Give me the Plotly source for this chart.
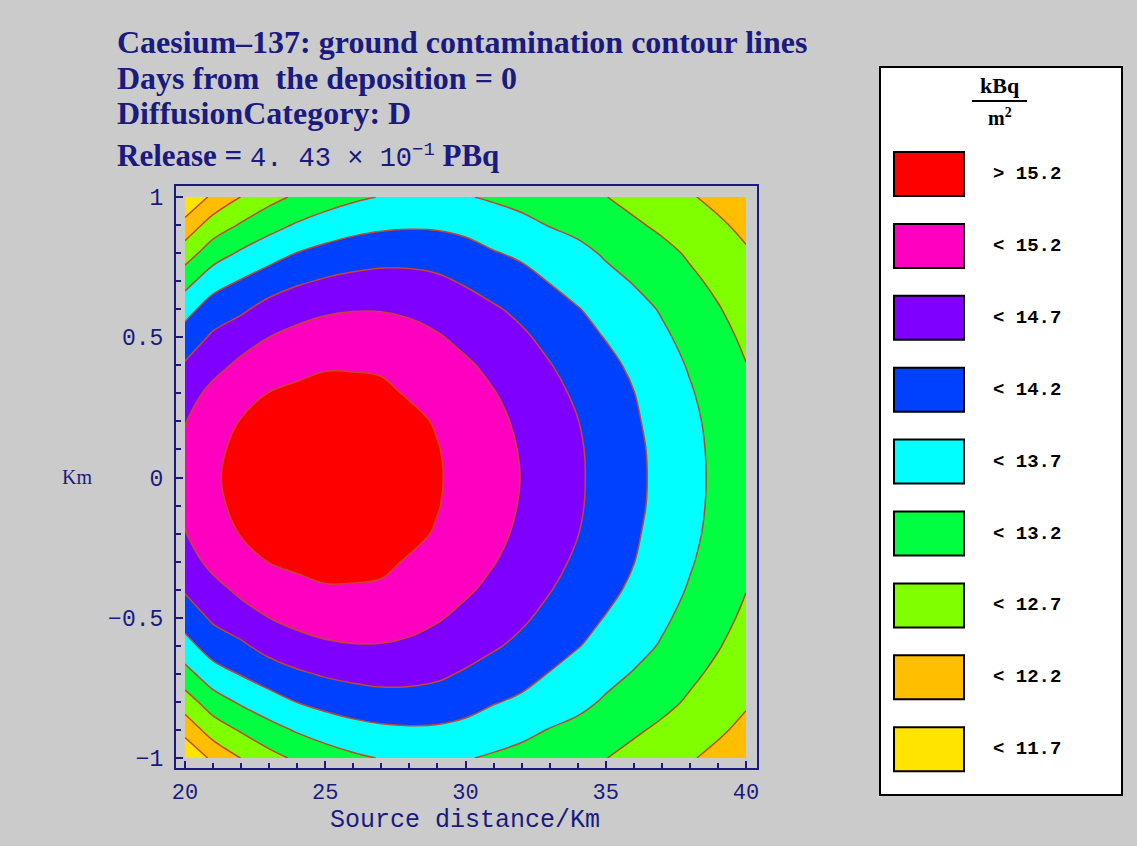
import plotly.graph_objects as go

# ---------------- data ----------------
x_km = [20, 21, 22, 23, 24, 25, 26, 27, 28, 29, 30, 31, 32, 33, 34, 35, 36, 37, 38, 39, 40]
y_km = [-1.0, -0.9, -0.8, -0.7, -0.6, -0.5, -0.4, -0.3, -0.2, -0.1, 0.0,
        0.1, 0.2, 0.3, 0.4, 0.5, 0.6, 0.7, 0.8, 0.9, 1.0]

# estimated contamination level (legend units) along rows of constant |y| (km)
row_y00 = [14.82, 15.15, 15.32, 15.45, 15.53, 15.57, 15.55, 15.50, 15.39, 15.24, 15.05,
           14.88, 14.69, 14.47, 14.26, 14.04, 13.81, 13.58, 13.34, 13.10, 12.85]
row_y01 = [14.78, 15.12, 15.29, 15.42, 15.50, 15.54, 15.53, 15.48, 15.37, 15.22, 15.03,
           14.86, 14.67, 14.46, 14.25, 14.03, 13.80, 13.57, 13.33, 13.09, 12.84]
row_y02 = [14.68, 15.02, 15.22, 15.33, 15.42, 15.47, 15.45, 15.41, 15.31, 15.16, 14.98,
           14.81, 14.62, 14.41, 14.21, 13.99, 13.76, 13.53, 13.30, 13.06, 12.81]
row_y03 = [14.50, 14.83, 15.04, 15.21, 15.28, 15.34, 15.33, 15.29, 15.16, 15.06, 14.89,
           14.72, 14.54, 14.33, 14.13, 13.92, 13.71, 13.47, 13.24, 13.01, 12.77]
row_y04 = [14.25, 14.55, 14.80, 14.98, 15.09, 15.16, 15.16, 15.14, 15.05, 14.93, 14.76,
           14.60, 14.43, 14.22, 14.03, 13.83, 13.61, 13.39, 13.16, 12.94, 12.71]
row_y05 = [13.91, 14.28, 14.50, 14.70, 14.83, 14.90, 14.92, 14.91, 14.85, 14.74, 14.59,
           14.44, 14.27, 14.08, 13.88, 13.68, 13.49, 13.28, 13.06, 12.84, 12.62]
row_y06 = [13.53, 13.93, 14.12, 14.38, 14.54, 14.64, 14.68, 14.68, 14.63, 14.53, 14.40,
           14.25, 14.10, 13.92, 13.72, 13.56, 13.36, 13.16, 12.94, 12.73, 12.51]
row_y07 = [13.02, 13.50, 13.73, 13.95, 14.13, 14.25, 14.32, 14.36, 14.34, 14.28, 14.15,
           14.01, 13.86, 13.68, 13.53, 13.35, 13.17, 12.99, 12.79, 12.60, 12.39]
row_y08 = [12.46, 12.97, 13.27, 13.50, 13.71, 13.85, 13.96, 14.02, 14.03, 13.99, 13.89,
           13.73, 13.62, 13.48, 13.34, 13.14, 13.00, 12.83, 12.64, 12.45, 12.25]
row_y09 = [11.87, 12.43, 12.75, 13.03, 13.25, 13.41, 13.53, 13.61, 13.64, 13.63, 13.56,
           13.44, 13.33, 13.18, 13.06, 12.93, 12.77, 12.61, 12.44, 12.27, 12.09]
row_y10 = [11.24, 11.81, 12.21, 12.54, 12.78, 12.98, 13.12, 13.22, 13.27, 13.27, 13.23,
           13.14, 13.04, 12.93, 12.82, 12.71, 12.55, 12.40, 12.24, 12.08, 11.91]

upper_rows = [row_y00, row_y01, row_y02, row_y03, row_y04, row_y05,
              row_y06, row_y07, row_y08, row_y09, row_y10]
z_grid = list(reversed(upper_rows[1:])) + upper_rows   # field is symmetric about y = 0

level_start = 11.7
level_end = 15.2
level_step = 0.5

# band colours from lowest band (< 11.7) to highest (> 15.2)
band_colors = ["#FFE400", "#FFBF00", "#80FF00", "#00FF40", "#00FFFF",
               "#0040FF", "#8000FF", "#FF00C0", "#FF0000"]
# legend rows, top to bottom
legend_labels = ["> 15.2", "< 15.2", "< 14.7", "< 14.2", "< 13.7",
                 "< 13.2", "< 12.7", "< 12.2", "< 11.7"]

title_lines = ["Caesium\u2013137: ground contamination contour lines",
               "Days from  the deposition = 0",
               "DiffusionCategory: D"]

# ---------------- layout helpers ----------------
W, H = 1137, 846
L, R, T, B = 176, 380, 186, 78
PW, PH = W - L - R, H - T - B


def fx(px):
    return (px - L) / PW


def fy(py):
    return (H - B - py) / PH


NAVY = "#1a1a80"
GRAY = "#cbcbcb"

n = len(band_colors)
colorscale = [[i / (n - 1), c] for i, c in enumerate(band_colors)]

fig = go.Figure()
fig.add_trace(go.Contour(
    x=x_km, y=y_km, z=z_grid,
    contours=dict(start=level_start, end=level_end, size=level_step, coloring="fill"),
    colorscale=colorscale,
    showscale=False,
    line=dict(color="#c8442a", width=1.5, smoothing=1.0),
    hoverinfo="skip",
))

tick_font = dict(family="Liberation Mono", size=22, color=NAVY)

fig.update_xaxes(
    range=[20 - 9 / 28.05, 40 + 11 / 28.05],
    tickmode="linear", tick0=20, dtick=5,
    ticks="inside", ticklen=7, tickwidth=1.5, tickcolor=NAVY,
    minor=dict(dtick=1, tick0=20, ticks="inside", ticklen=5, tickwidth=1.5, tickcolor=NAVY),
    showline=True, linecolor=NAVY, linewidth=2.2, mirror=True,
    showgrid=False, zeroline=False,
    tickfont=tick_font, ticklabelstandoff=2,
)
fig.update_yaxes(
    range=[-1 - 10 / 280.5, 1 + 11 / 280.5],
    tickmode="linear", tick0=0, dtick=0.5,
    ticks="inside", ticklen=7, tickwidth=1.5, tickcolor=NAVY,
    minor=dict(dtick=0.1, tick0=0, ticks="inside", ticklen=5, tickwidth=1.5, tickcolor=NAVY),
    showline=True, linecolor=NAVY, linewidth=2.2, mirror=True,
    showgrid=False, zeroline=False,
    tickfont=dict(family="Liberation Mono", size=23, color=NAVY), ticklabelstandoff=6,
)

annotations = []
title_y = [42, 78, 113]
for txt, yy in zip(title_lines, title_y):
    annotations.append(dict(
        text=txt, x=fx(115), y=fy(yy), xref="paper", yref="paper",
        xanchor="left", yanchor="middle", showarrow=False,
        font=dict(family="Liberation Serif", size=32, color=NAVY, weight="bold"),
    ))
annotations.append(dict(
    text="Release = <span style='font-family:Liberation Mono;font-weight:normal;font-size:27px'>4. 43 \u00d7 10"
         "<sup>\u22121</sup></span> PBq",
    x=fx(115), y=fy(156), xref="paper", yref="paper",
    xanchor="left", yanchor="middle", showarrow=False,
    font=dict(family="Liberation Serif", size=31, color=NAVY, weight="bold"),
))
annotations.append(dict(
    text="Km", x=fx(77), y=fy(477), xref="paper", yref="paper",
    xanchor="center", yanchor="middle", showarrow=False,
    font=dict(family="Liberation Serif", size=20, color=NAVY),
))
# x-axis title
annotations.append(dict(
    text="Source distance/Km", x=fx(465), y=fy(820), xref="paper", yref="paper",
    xanchor="center", yanchor="middle", showarrow=False,
    font=dict(family="Liberation Mono", size=25, color=NAVY),
))

shapes = []
# legend box
shapes.append(dict(type="rect", xref="paper", yref="paper",
                   x0=fx(880), x1=fx(1122), y0=fy(795), y1=fy(67),
                   fillcolor="white", line=dict(color="black", width=2), layer="above"))
# unit header kBq / m^2
annotations.append(dict(text="<b>kBq</b>", x=fx(1000), y=fy(86), xref="paper", yref="paper",
                        xanchor="center", yanchor="middle", showarrow=False,
                        font=dict(family="Liberation Serif", size=22, color="black")))
shapes.append(dict(type="line", xref="paper", yref="paper",
                   x0=fx(972), x1=fx(1027), y0=fy(101), y1=fy(101),
                   line=dict(color="black", width=2), layer="above"))
annotations.append(dict(text="<b>m<sup>2</sup></b>", x=fx(1000), y=fy(117), xref="paper", yref="paper",
                        xanchor="center", yanchor="middle", showarrow=False,
                        font=dict(family="Liberation Serif", size=20, color="black")))

row0, row_gap = 174, 71.9
for i, lab in enumerate(legend_labels):
    cy = row0 + i * row_gap
    color = band_colors[n - 1 - i]
    shapes.append(dict(type="rect", xref="paper", yref="paper",
                       x0=fx(894), x1=fx(964), y0=fy(cy + 22), y1=fy(cy - 22),
                       fillcolor=color, line=dict(color="black", width=2), layer="above"))
    annotations.append(dict(text=lab, x=fx(991), y=fy(cy), xref="paper", yref="paper",
                            xanchor="left", yanchor="middle", showarrow=False,
                            font=dict(family="Liberation Mono", size=19, color="black", weight="bold")))

fig.update_layout(
    width=W, height=H,
    margin=dict(l=L, r=R, t=T, b=B, autoexpand=False),
    paper_bgcolor=GRAY, plot_bgcolor=GRAY,
    annotations=annotations, shapes=shapes,
    showlegend=False,
)

fig.write_html("out.html")
